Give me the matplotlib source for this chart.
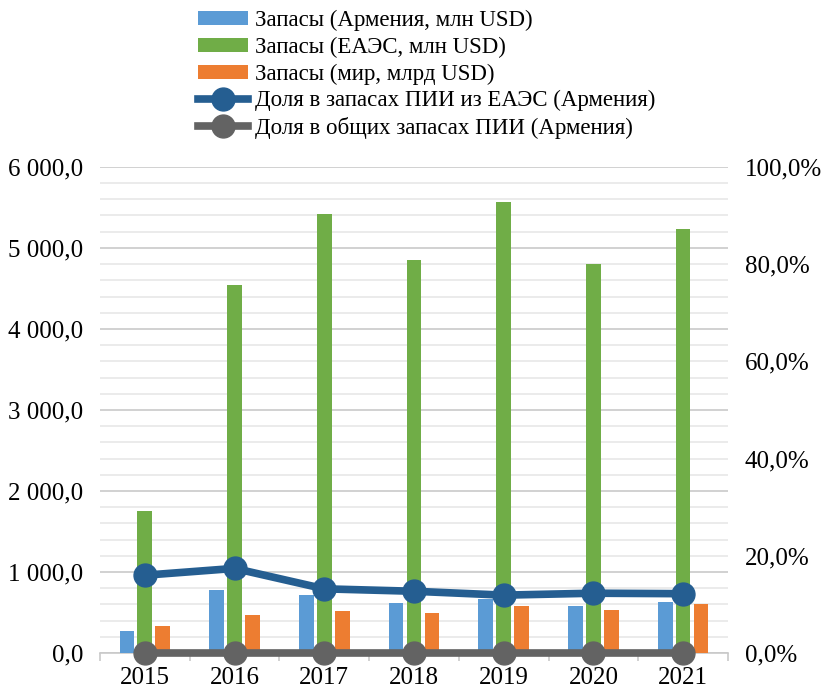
import numpy as np
import matplotlib.pyplot as plt
from matplotlib.ticker import FuncFormatter, MultipleLocator

years = ['2015', '2016', '2017', '2018', '2019', '2020', '2021']
armenia = [271, 783, 717, 617, 663, 583, 633]
eaeu = [1753, 4543, 5420, 4852, 5568, 4802, 5235]
world = [338, 471, 521, 496, 579, 533, 608]
share_eaeu = [16.0, 17.4, 13.2, 12.7, 11.9, 12.3, 12.2]
share_total = [0.05, 0.05, 0.05, 0.05, 0.05, 0.05, 0.05]

plt.rcParams['font.family'] = ['Liberation Serif', 'DejaVu Serif']
fs = 18

fig = plt.figure(figsize=(8.23, 6.91), dpi=100)
ax = fig.add_axes([0.1215, 0.055, 0.763, 0.7035])
ax2 = ax.twinx()

x = np.arange(len(years))
w = 0.165
b1 = ax.bar(x - 0.2, armenia, w, color='#5B9BD5', label='Запасы (Армения, млн USD)', zorder=3)
b2 = ax.bar(x, eaeu, w, color='#70AD47', label='Запасы (ЕАЭС, млн USD)', zorder=3)
b3 = ax.bar(x + 0.2, world, w, color='#ED7D31', label='Запасы (мир, млрд USD)', zorder=3)

l1, = ax2.plot(x, share_eaeu, color='#255E91', lw=5.5, marker='o', ms=16.5,
               label='Доля в запасах ПИИ из ЕАЭС (Армения)', zorder=4)
l2, = ax2.plot(x, share_total, color='#636363', lw=5.5, marker='o', ms=16.5,
               label='Доля в общих запасах ПИИ (Армения)', zorder=4, clip_on=False)

ax.set_xlim(-0.5, 6.5)
ax.set_ylim(0, 6000)
ax2.set_ylim(0, 100)

ax.yaxis.set_major_locator(MultipleLocator(1000))
ax.yaxis.set_minor_locator(MultipleLocator(200))
ax.yaxis.set_major_formatter(FuncFormatter(lambda v, p: f'{v:,.1f}'.replace(',', ' ').replace('.', ',')))
ax2.yaxis.set_major_locator(MultipleLocator(20))
ax2.yaxis.set_major_formatter(FuncFormatter(lambda v, p: f'{v:.1f}%'.replace('.', ',')))

ax.grid(axis='y', which='major', color='#c9c9c9', lw=1.2, zorder=0)
ax.grid(axis='y', which='minor', color='#e8e8e8', lw=1.2, zorder=0)
ax.set_axisbelow(True)

ax.set_xticks(x)
ax.set_xticklabels(years)
ax.set_xticks(np.arange(-0.5, 7, 1), minor=True)
ax.tick_params(axis='x', which='major', length=0, labelsize=fs, pad=10)
ax.tick_params(axis='x', which='minor', length=6, color='#c9c9c9', width=1.2)
ax.tick_params(axis='y', which='both', length=0, labelsize=fs, pad=12)
ax2.tick_params(axis='y', length=0, labelsize=fs, pad=12)

for a in (ax, ax2):
    for s in ['top', 'left', 'right']:
        a.spines[s].set_visible(False)
    a.spines['bottom'].set_color('#c9c9c9')
    a.spines['bottom'].set_linewidth(1.2)
ax2.spines['bottom'].set_visible(False)

handles = [b1, b2, b3, l1, l2]
fig.legend(handles=handles, labels=[h.get_label() for h in handles],
           loc='upper left', bbox_to_anchor=(0.215, 1.015), frameon=False,
           fontsize=16.5, handlelength=2.2, handletextpad=0.3, labelspacing=0.24,
           handleheight=0.55)

fig.savefig('out.png', dpi=100)
